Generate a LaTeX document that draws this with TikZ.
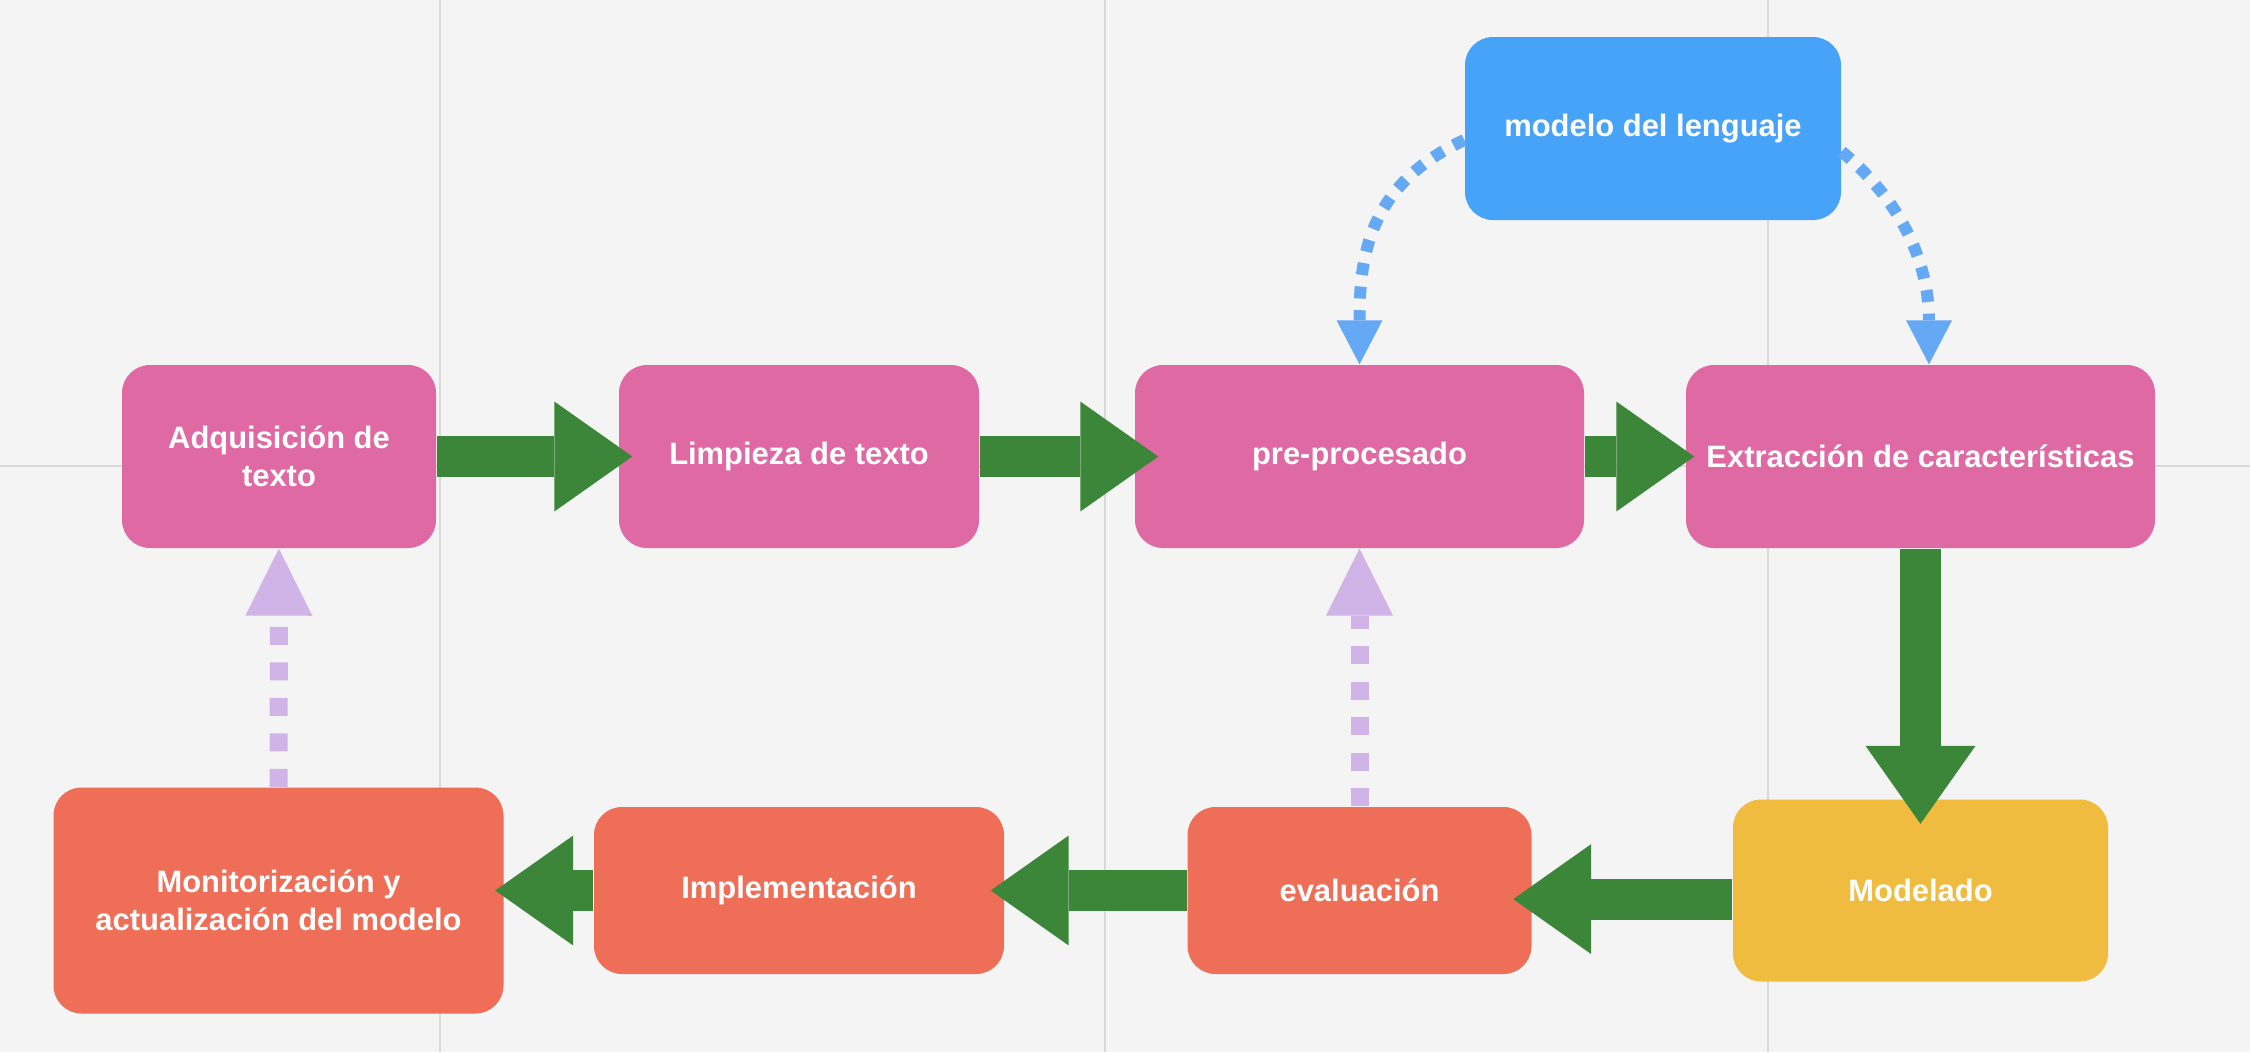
\documentclass[tikz,border=0pt]{standalone}
\usepackage{fontspec}
\setmainfont{Liberation Sans}
\usetikzlibrary{arrows.meta}
\usetikzlibrary{positioning}

\definecolor{canvas}{RGB}{244,244,244}
\definecolor{gridgray}{RGB}{217,217,217}
\definecolor{stagepink}{RGB}{223,105,163}
\definecolor{stagered}{RGB}{238,110,87}
\definecolor{stageyellow}{RGB}{240,188,64}
\definecolor{lmblue}{RGB}{71,163,248}
\definecolor{linkblue}{RGB}{101,168,243}
\definecolor{flowgreen}{RGB}{60,134,57}
\definecolor{lavender}{RGB}{208,180,232}

\begin{document}
\begin{tikzpicture}[x=0.1mm, y=-0.1mm,
    stage/.style={rounded corners=2.8mm, inner sep=0pt, align=center, text=white,
        font=\bfseries\fontsize{8.8pt}{10.7pt}\selectfont},
    flow/.style={draw=flowgreen, line width=4.1mm,
        -{Triangle[width=11mm, length=7.8mm, line width=0pt]}},
    feedback/.style={draw=lavender, line width=1.8mm, dash pattern=on 1.8mm off 1.75mm,
        -{Triangle[width=6.7mm, length=6.7mm, line width=0pt]}},
    lmlink/.style={draw=linkblue, line width=1.2mm, dash pattern=on 1.2mm off 1.17mm,
        -{Triangle[width=4.6mm, length=4.4mm, line width=0pt]}}]

    \fill[canvas] (0,0) rectangle (2250,1052);
    \useasboundingbox (0,0) rectangle (2250,1052);

    %\draw[help lines] (0,0) grid (2250,1052);
    \foreach \gx in {440,1105,1768}
        \draw[gridgray, line width=0.2mm] (\gx,0) -- (\gx,1052);
    \draw[gridgray, line width=0.2mm] (0,466) -- (2250,466);

    \begin{scope}[on grid]

        \node (adq) at (279,456.5) [stage, fill=stagepink, minimum width=31.4mm, minimum height=18.3mm] {Adquisición de\\texto};
        \node (limp) [stage, fill=stagepink, minimum width=36mm, minimum height=18.3mm, right=52mm of adq] {Limpieza de texto};
        \node (pre) [stage, fill=stagepink, minimum width=44.9mm, minimum height=18.3mm, right=56.05mm of limp] {pre-procesado};
        \node (extr) [stage, fill=stagepink, minimum width=46.9mm, minimum height=18.3mm, right=56.1mm of pre] {Extracción de características};

        \node (modelo) [stage, fill=lmblue, minimum width=37.6mm, minimum height=18.3mm, above right=32.8mm and 29.35mm of pre] {modelo del lenguaje};

        \node (modelado) [stage, fill=stageyellow, minimum width=37.5mm, minimum height=18.2mm, below=43.4mm of extr] {Modelado};
        \node (eval) [stage, fill=stagered, minimum width=34.4mm, minimum height=16.7mm, left=56.1mm of modelado] {evaluación};
        \node (impl) [stage, fill=stagered, minimum width=41mm, minimum height=16.7mm, left=56.05mm of eval] {Implementación};
        \node (monit) [stage, fill=stagered, minimum width=45mm, minimum height=22.6mm, left=52.05mm of impl, yshift=-1mm] {Monitorización y\\actualización del modelo};

    \end{scope}

    \draw[flow, shorten >=-1.4mm] (adq) -- (limp);
    \draw[flow, shorten >=-2.4mm] (limp) -- (pre);
    \draw[flow, shorten >=-0.9mm] (pre) -- (extr);
    \draw[flow, shorten >=-2.5mm] (extr) -- (modelado);
    \draw[flow, shorten >=-1.9mm] ([yshift=-0.86mm]modelado.west) -- ([yshift=-0.86mm]eval.east);
    \draw[flow, shorten >=-1.4mm] (eval) -- (impl);
    \draw[flow, shorten >=-0.9mm] (impl.west) -- (impl.west -| monit.east);

    \draw[feedback] (monit) -- (adq);
    \draw[feedback] (eval) -- (pre);

    \draw[lmlink] ([yshift=-1.15mm]modelo.west) to[out=205, in=90, looseness=1.1] (pre.north);
    \draw[lmlink] ([yshift=-2.3mm]modelo.east) to[out=-40, in=90] ([xshift=0.85mm]extr.north);

\end{tikzpicture}
\end{document}
